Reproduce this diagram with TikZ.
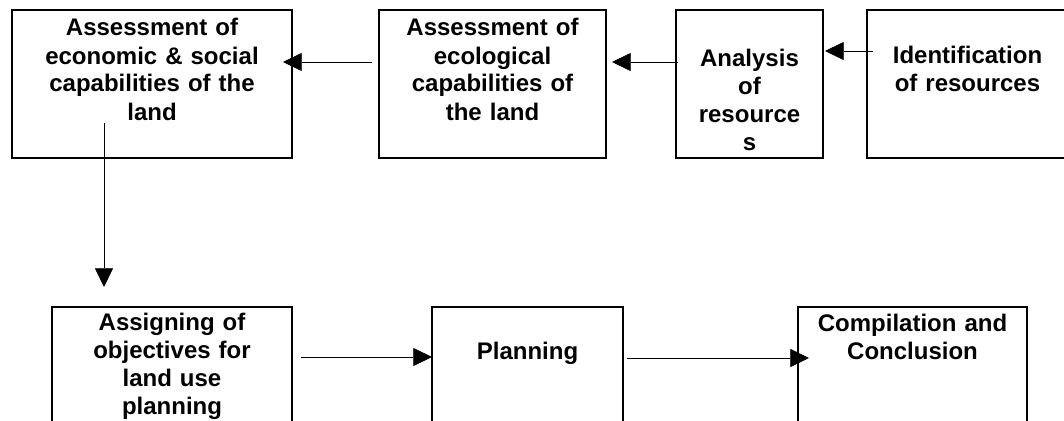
\documentclass[tikz,border=0pt]{standalone}
\usepackage{fontspec}
\setmainfont{Liberation Sans}
\usetikzlibrary{arrows.meta,positioning}
\tikzset{
    -{Triangle[length=14pt,width=13.5pt]},line width=1pt,
    box/.style n args={3}{draw,line width=1.5pt,inner sep=0pt,outer sep=0pt,align=center,
        font=\fontsize{18}{21}\selectfont\bfseries,
        text width=#1,text height=#2,text depth=#3}
}
\begin{document}
\begin{tikzpicture}[x=0.75pt,y=-0.75pt]
  \useasboundingbox (0,0) rectangle (1064,421);
  \node[box={210pt}{19.5pt}{91.5pt},anchor=north west] (4) at (12,10) {Assessment of\\economic \& social\\capabilities of the\\land};
  \node[box={170.25pt}{19.5pt}{91.5pt},right=65.25pt of 4] (3) {Assessment of\\ecological\\capabilities of\\the land};
  \node[box={110.25pt}{42pt}{69pt},right=52.5pt of 3] (2) {Analysis\\of\\resource\\s};
  \node[box={150.75pt}{39.75pt}{71.25pt},right=33pt of 2] (1) {Identification\\of resources};
  \node[box={180pt}{17.25pt}{82.5pt},anchor=north west] (5) at (52,307) {Assigning of\\objectives for\\land use\\planning};
  \node[box={143.25pt}{39pt}{60.75pt},right=105pt of 5] (6) {Planning};
  \node[box={171.75pt}{18pt}{81.75pt},right=131.25pt of 6] (7) {Compilation and\\Conclusion};

  \draw ([xshift=4.5pt,yshift=-30.75pt]1.north west) -- ([xshift=1.5pt,yshift=-30.75pt]2.north east);
  \draw ([xshift=1.5pt,yshift=-39pt]2.north west) -- ([xshift=4.5pt,yshift=-39pt]3.north east);
  \draw ([xshift=-5.25pt,yshift=-39pt]3.north west) -- ([xshift=-6.75pt,yshift=-39pt]4.north east);
  \draw ([xshift=69pt,yshift=26.25pt]4.south west) -- ([xshift=39pt,yshift=15pt]5.north west);
  \draw ([xshift=6.75pt,yshift=-37.5pt]5.north east) -- ([yshift=-37.5pt]6.north west);
  \draw ([xshift=3pt,yshift=-38.25pt]6.north east) -- ([xshift=8.25pt,yshift=-38.25pt]7.north west);
\end{tikzpicture}
\end{document}
